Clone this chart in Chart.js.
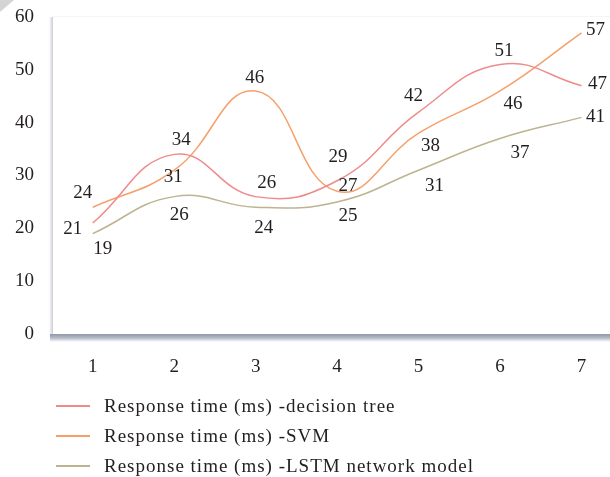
<!DOCTYPE html>
<html>
<head>
<meta charset="utf-8">
<script src="https://cdn.jsdelivr.net/npm/chart.js@4/dist/chart.umd.min.js"></script>
<style>
  html, body { margin: 0; padding: 0; background: #fff; }
  #wrap { width: 610px; height: 477px; position: relative; }
</style>
</head>
<body>
<div id="wrap"><canvas id="chart"></canvas></div>
<script>
// データ
const categories = [1, 2, 3, 4, 5, 6, 7];
const treeValues = [21, 34, 26, 29, 42, 51, 47];
const svmValues  = [24, 31, 46, 27, 38, 46, 57];
const lstmValues = [19, 26, 24, 25, 31, 37, 41];
const yTicks = [0, 10, 20, 30, 40, 50, 60];
const seriesNames = [
    'Response time (ms) -decision tree',
    'Response time (ms) -SVM',
    'Response time (ms) -LSTM network model'
];
const seriesColors = ['#ef8b8b', '#f5a06b', '#bdb38f'];

// ラベルの位置ずらし (dx, dy)
const labelOffsets = [
    [[-20, 6], [7, -14], [11, -14], [1, -24], [-5, -16], [4, -14], [16, -2]],
    [[-10, -14], [-1, 7], [-1, -13], [11, -5], [12, 13], [13, 13], [14, -3]],
    [[10, 15], [5, 18], [8, 21], [11, 14], [16, 16], [20, 14], [14, 0]]
];

const FONT = '"Liberation Serif", "DejaVu Serif", serif';

function toPoints(values) {
    return values.map((v, i) => ({ x: categories[i], y: v }));
}

// 枠と影
const framePlugin = {
    id: 'frame',
    beforeDraw(chart) {
        const { ctx, chartArea: a } = chart;
        ctx.save();
        // 左上の折り返し
        ctx.fillStyle = '#d4d4d4';
        ctx.beginPath();
        ctx.moveTo(0, 0); ctx.lineTo(14, 0); ctx.lineTo(0, 12); ctx.closePath();
        ctx.fill();
        // 上の薄い線
        ctx.fillStyle = '#f4f5f7';
        ctx.fillRect(a.left, a.top - 1, a.right - a.left, 1);
        // 左の影
        let g = ctx.createLinearGradient(a.left - 3, 0, a.left + 1, 0);
        g.addColorStop(0, '#ffffff');
        g.addColorStop(1, '#c9cdd8');
        ctx.fillStyle = g;
        ctx.fillRect(a.left - 3, a.top, 4, a.bottom - a.top + 4);
        // 下の影
        g = ctx.createLinearGradient(0, a.bottom, 0, a.bottom + 8);
        g.addColorStop(0, '#8f98aa');
        g.addColorStop(0.5, '#b4bac8');
        g.addColorStop(1, '#ffffff');
        ctx.fillStyle = g;
        ctx.fillRect(a.left - 2, a.bottom, a.right - a.left + 2, 8);
        ctx.restore();
    }
};

// データラベルと凡例
const labelPlugin = {
    id: 'labels',
    afterDatasetsDraw(chart) {
        const ctx = chart.ctx;
        ctx.save();
        ctx.font = '19px ' + FONT;
        ctx.fillStyle = '#231f20';
        ctx.textAlign = 'center';
        ctx.textBaseline = 'middle';
        chart.data.datasets.forEach((ds, di) => {
            chart.getDatasetMeta(di).data.forEach((pt, i) => {
                const off = labelOffsets[di][i];
                ctx.fillText(String(ds.data[i].y), pt.x + off[0], pt.y + off[1]);
            });
        });

        // 凡例
        ctx.textAlign = 'left';
        ctx.letterSpacing = '1px';
        seriesNames.forEach((name, i) => {
            const y = 406 + i * 30;
            ctx.strokeStyle = seriesColors[i];
            ctx.lineWidth = 2;
            ctx.beginPath();
            ctx.moveTo(56, y); ctx.lineTo(90, y);
            ctx.stroke();
            ctx.fillText(name, 104, y + 1);
        });
        ctx.restore();
    }
};

const datasets = [treeValues, svmValues, lstmValues].map((vals, i) => ({
    label: seriesNames[i],
    data: toPoints(vals),
    borderColor: seriesColors[i],
    backgroundColor: seriesColors[i],
    borderWidth: 1.5,
    pointRadius: 0,
    tension: 0.45,
    fill: false
}));

new Chart(document.getElementById('chart').getContext('2d'), {
    type: 'line',
    data: { datasets: datasets },
    options: {
        responsive: true,
        maintainAspectRatio: false,
        animation: false,
        layout: { padding: { top: 17, right: 0, bottom: 0, left: 0 } },
        plugins: {
            legend: { display: false },
            tooltip: { enabled: false }
        },
        scales: {
            x: {
                type: 'linear',
                min: 0.5,
                max: 7.35,
                afterBuildTicks: s => { s.ticks = categories.map(v => ({ value: v })); },
                afterFit: s => { s.height = 143; s.paddingLeft = 0; s.paddingRight = 0; },
                grid: { display: false, drawTicks: false },
                border: { display: false },
                ticks: { padding: 22, color: '#231f20', font: { family: FONT, size: 19 } }
            },
            y: {
                min: 0,
                max: 60,
                afterBuildTicks: s => { s.ticks = yTicks.map(v => ({ value: v })); },
                afterFit: s => { s.width = 52; s.paddingTop = 0; s.paddingBottom = 0; },
                grid: { display: false, drawTicks: false },
                border: { display: false },
                ticks: { padding: 18, color: '#231f20', font: { family: FONT, size: 19 } }
            }
        }
    },
    plugins: [framePlugin, labelPlugin]
});
</script>
</body>
</html>
